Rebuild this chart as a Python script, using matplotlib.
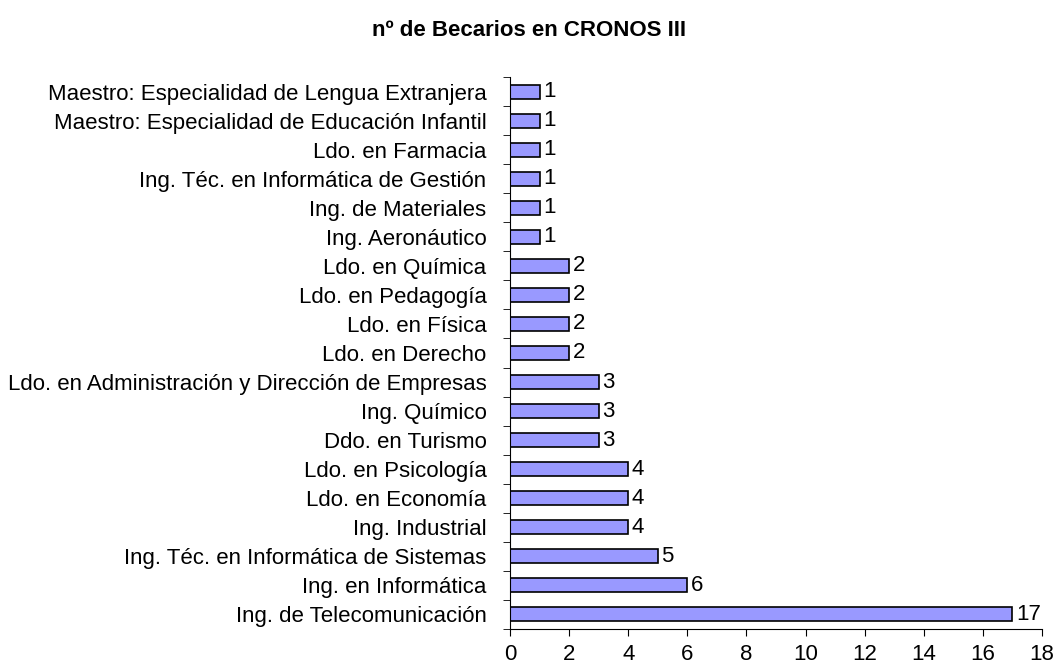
import matplotlib.pyplot as plt
import numpy as np

plt.rcParams['font.family'] = ['Liberation Sans', 'DejaVu Sans']

# Data, top to bottom as in the chart
carreras = [
    "Maestro: Especialidad de Lengua Extranjera",
    "Maestro: Especialidad de Educación Infantil",
    "Ldo. en Farmacia",
    "Ing. Téc. en Informática de Gestión",
    "Ing. de Materiales",
    "Ing. Aeronáutico",
    "Ldo. en Química",
    "Ldo. en Pedagogía",
    "Ldo. en Física",
    "Ldo. en Derecho",
    "Ldo. en Administración y Dirección de Empresas",
    "Ing. Químico",
    "Ddo. en Turismo",
    "Ldo. en Psicología",
    "Ldo. en Economía",
    "Ing. Industrial",
    "Ing. Téc. en Informática de Sistemas",
    "Ing. en Informática",
    "Ing. de Telecomunicación",
]
becarios = [1, 1, 1, 1, 1, 1, 2, 2, 2, 2, 3, 3, 3, 4, 4, 4, 5, 6, 17]

fig = plt.figure(figsize=(10.57, 6.69), dpi=100)
ax = fig.add_axes([0.4825, 0.0598, 0.5033, 0.8251])

y = np.arange(len(carreras))[::-1]
ax.barh(y, becarios, height=0.48, color="#9999ff", edgecolor="black", linewidth=1.2)

for yi, v in zip(y, becarios):
    ax.text(v + 0.12, yi, str(v), va="center", ha="left", fontsize=16)

ax.set_ylim(-0.5, len(carreras) - 0.5)
ax.set_xlim(0, 18)
ax.set_xticks(range(0, 19, 2))
ax.set_yticks(y)
ax.set_yticklabels(carreras, fontsize=16)
ax.set_yticks(np.arange(-0.5, len(carreras)), minor=True)
ax.tick_params(axis="y", which="major", length=0, pad=17)
ax.tick_params(axis="y", which="minor", length=5, direction="out")
ax.tick_params(axis="x", labelsize=16, length=5, pad=6)

for s in ["top", "right"]:
    ax.spines[s].set_visible(False)

fig.suptitle("nº de Becarios en CRONOS III", x=0.5, y=0.97, fontsize=16, fontweight="bold")

plt.savefig("out.png", dpi=100)
